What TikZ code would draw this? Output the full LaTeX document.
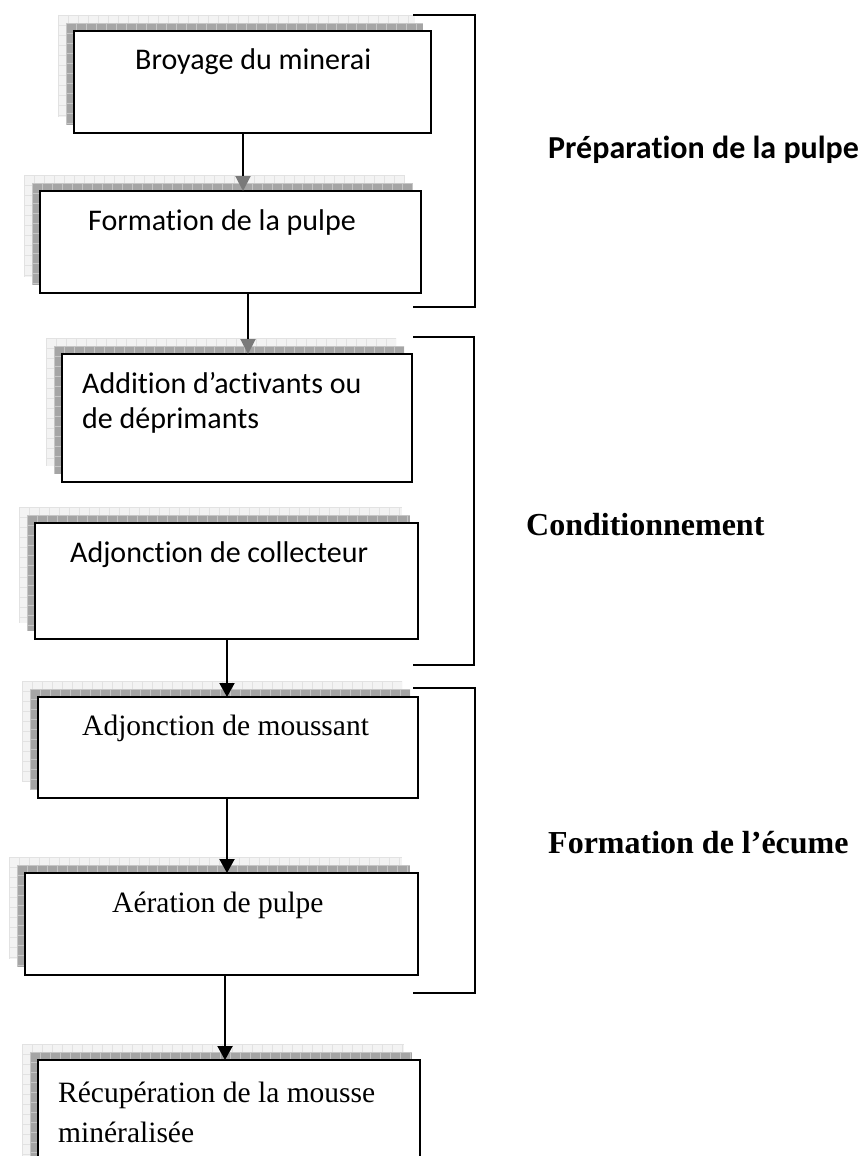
\documentclass[tikz,border=0pt]{standalone}
\usepackage{fontspec}
\setmainfont{Liberation Serif}
\newfontfamily\calibri[Ligatures=NoCommon]{Carlito}
\usetikzlibrary{arrows.meta,calc}
\definecolor{shdark}{HTML}{A5A5A5}
\definecolor{shdarkline}{HTML}{C6C6C6}
\definecolor{shlight}{HTML}{F3F3F3}
\definecolor{shlightline}{HTML}{E2E2E2}
\definecolor{headgray}{HTML}{7A7A7A}
\tikzset{
  pbox/.style={draw=black, line width=2pt, fill=white, rectangle, inner sep=0pt, outer sep=0pt},
  caltext/.style={font=\calibri\fontsize{30}{35}\selectfont, anchor=base west, inner sep=0pt},
  tnrtext/.style={font=\fontsize{29.5}{35}\selectfont, anchor=base west, inner sep=0pt},
  callabel/.style={font=\calibri\bfseries\fontsize{32}{38}\selectfont, anchor=base west, inner sep=0pt},
  tnrlabel/.style={font=\bfseries\fontsize{32}{38}\selectfont, anchor=base west, inner sep=0pt},
  brk/.style={draw=black, line width=2pt},
  flow/.style={draw=black, line width=2pt, -{Triangle[width=15pt,length=14pt]}},
  flowgray/.style={draw=black, line width=2pt, -{Triangle[width=15pt,length=15pt,color=headgray]}},
}
\newcommand{\shadowrect}[6]{%
  \begin{scope}
    \clip (#1,#2) rectangle (#3,#4);
    \fill[#5] (#1,#2) rectangle (#3,#4);
    \pgfmathtruncatemacro\nx{((#3)-(#1))/10}
    \pgfmathtruncatemacro\ny{((#4)-(#2))/10}
    \foreach \i in {0,...,\nx} \draw[#6, line width=0.7pt] ({#1+10*\i},#2) -- ({#1+10*\i},#4);
    \foreach \j in {0,...,\ny} \draw[#6, line width=0.7pt] (#1,{#2+10*\j}) -- (#3,{#2+10*\j});
  \end{scope}}
\newcommand{\procbox}[5]{%
  \shadowrect{#2-16}{#3-16}{#4-16}{#5-16}{shlight}{shlightline}
  \shadowrect{#2-8}{#3-8}{#4-8}{#5-8}{shdark}{shdarkline}
  \node[pbox, minimum width={((#4)-(#2))*1pt}, minimum height={((#5)-(#3))*1pt}] (#1) at ({(#2+#4)/2},{(#3+#5)/2}) {};
}
\begin{document}
\begin{tikzpicture}[x=1pt,y=-1pt]
\useasboundingbox (0,0) rectangle (862,1156);
\clip (0,0) rectangle (862,1156);
\fill[white] (0,0) rectangle (862,1156);

% process boxes with shadows
\procbox{b1}{74}{31}{431}{133}
\procbox{b2}{40}{191}{421}{293}
\procbox{b3}{62}{354}{412}{482}
\procbox{b4}{35}{523}{418}{639}
\procbox{b5}{38}{697}{418}{798}
\procbox{b6}{25}{873}{418}{975}
\procbox{b7}{38}{1060}{420}{1175}

% box texts
\node[caltext] (t1) at (135,70) {Broyage du minerai};
\node[caltext] (t2) at (88,230) {Formation de la pulpe};
\node[caltext] (t3a) at (82,393) {Addition d’activants ou};
\node[caltext] (t3b) at (82,428) {de déprimants};
\node[caltext] (t4) at (70,562) {Adjonction de collecteur};
\node[tnrtext] (t5) at (82,735) {Adjonction de moussant};
\node[tnrtext] (t6) at (112,912) {Aération de pulpe};
\node[tnrtext] (t7a) at (58,1102) {Récupération de la mousse};
\node[tnrtext] (t7b) at (58,1142) {minéralisée};

% connectors
\coordinate (c1) at (243,0);
\coordinate (c2) at (248,0);
\coordinate (c3) at (227,0);
\coordinate (c4) at (227,0);
\coordinate (c5) at (225,0);
\draw[flowgray] (b1.south -| c1) -- (b2.north -| c1);
\draw[flowgray] (b2.south -| c2) -- (b3.north -| c2);
\draw[flow] (b4.south -| c3) -- (b5.north -| c3);
\draw[flow] (b5.south -| c4) -- (b6.north -| c4);
\draw[flow] (b6.south -| c5) -- (b7.north -| c5);

% brackets
\draw[brk] (413,15) -- (475,15) -- (475,307) -- (413,307);
\draw[brk] (413,337) -- (474,337) -- (474,665) -- (413,665);
\draw[brk] (413,688) -- (475,688) -- (475,993) -- (413,993);

% stage labels
\node[callabel] (l1) at (548,158) {Préparation de la pulpe};
\node[tnrlabel] (l2) at (526,535) {Conditionnement};
\node[tnrlabel] (l3) at (548,853) {Formation de l’écume};
\end{tikzpicture}
\end{document}
